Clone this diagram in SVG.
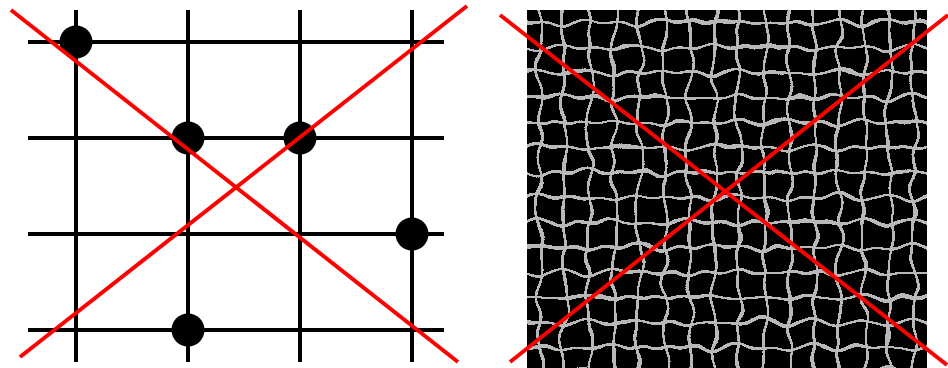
<svg xmlns="http://www.w3.org/2000/svg" width="948" height="368" viewBox="0 0 948 368">
  <style>
    .grid { stroke: #000; stroke-width: 4; fill: none; }
    .dot { fill: #000; }
    .red { stroke: #ff0000; stroke-width: 4; fill: none; }
  </style>
  <defs>
    <pattern id="gp" x="527" y="10" width="25" height="25" patternUnits="userSpaceOnUse">
      <path d="M0 12.5H25M12.5 0V25" stroke="#b8b8b8" stroke-width="3" fill="none"/>
    </pattern>
    <filter id="warp" x="0" y="0" width="1" height="1" color-interpolation-filters="sRGB">
      <feTurbulence type="fractalNoise" baseFrequency="0.04" numOctaves="1" seed="7" result="t"/>
      <feDisplacementMap in="SourceGraphic" in2="t" scale="18" xChannelSelector="R" yChannelSelector="G"/>
    </filter>
    <clipPath id="clipR"><rect x="527" y="10" width="400" height="358"/></clipPath>
  </defs>
  <rect width="948" height="368" fill="#fff"/>
  <g id="left-grid">
    <path class="grid" d="M28 42H444M28 138H444M28 234H444M28 330H444M76 10V362M188 10V362M300 10V362M412 10V362"/>
  </g>
  <g id="dots">
    <circle class="dot" cx="76" cy="42" r="16.5"/>
    <circle class="dot" cx="188" cy="138" r="16.5"/>
    <circle class="dot" cx="300" cy="138" r="16.5"/>
    <circle class="dot" cx="412" cy="234" r="16.5"/>
    <circle class="dot" cx="188" cy="330" r="16.5"/>
  </g>
  <g id="right-texture" clip-path="url(#clipR)">
    <rect x="527" y="10" width="400" height="358" fill="#000"/>
    <g filter="url(#warp)">
      <rect x="517" y="0" width="420" height="378" fill="#000"/>
      <rect x="517" y="0" width="420" height="378" fill="url(#gp)"/>
    </g>
  </g>
  <g id="connectors">
    <line class="red" x1="11" y1="10" x2="458" y2="362"/>
    <line class="red" x1="20" y1="357" x2="467" y2="6"/>
    <line class="red" x1="500" y1="15" x2="947" y2="365"/>
    <line class="red" x1="510" y1="362" x2="948" y2="15"/>
  </g>
</svg>
